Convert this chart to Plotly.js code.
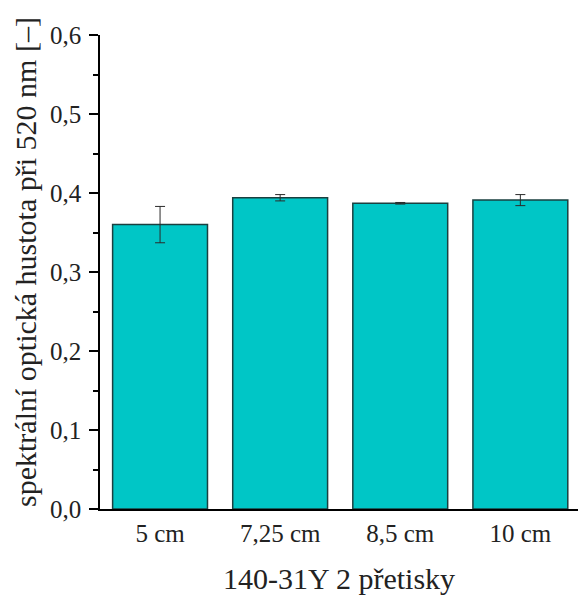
<!DOCTYPE html>
<html><head><meta charset="utf-8">
<script src="https://cdn.plot.ly/plotly-3.0.1.min.js"></script>
<style>html,body{margin:0;padding:0;background:#fff}</style>
</head><body>
<div id="chart" style="width:578px;height:599px"></div>
<script>
const categories = ["5 cm", "7,25 cm", "8,5 cm", "10 cm"];
const values = [0.360, 0.394, 0.387, 0.391];
const errors = [0.023, 0.004, 0.001, 0.007];
const yTickVals = [0, 0.1, 0.2, 0.3, 0.4, 0.5, 0.6];
const yTickText = ["0,0", "0,1", "0,2", "0,3", "0,4", "0,5", "0,6"];

const font = "Liberation Serif, Times New Roman, serif";
Plotly.newPlot('chart', [{
  type: 'bar',
  x: categories,
  y: values,
  marker: {color: '#00C6C6', line: {color: '#1A4040', width: 1.5}},
  error_y: {type: 'data', array: errors, visible: true, color: '#2a2a2a', thickness: 1, width: 5},
  width: 0.79
}], {
  width: 578, height: 599,
  margin: {l: 100, r: 0, t: 35, b: 90},
  paper_bgcolor: '#fff', plot_bgcolor: '#fff',
  showlegend: false,
  font: {family: font, color: '#222'},
  xaxis: {
    range: [-0.5, 3.48],
    showline: true, linecolor: '#000', linewidth: 1.5,
    ticks: 'outside', ticklen: 1, tickcolor: 'rgba(0,0,0,0)', ticklabelstandoff: 0,
    showgrid: false, zeroline: false,
    tickfont: {size: 25, family: font, color: '#222'},
    title: {text: '140-31Y 2 přetisky', font: {size: 30, family: font, color: '#222'}, standoff: 22}
  },
  yaxis: {
    range: [0, 0.6],
    tickvals: yTickVals, ticktext: yTickText,
    showline: true, linecolor: '#000', linewidth: 1.5,
    ticks: 'outside', ticklen: 9, tickwidth: 1.5, tickcolor: '#000', ticklabelstandoff: 3,
    minor: {dtick: 0.05, ticks: 'outside', ticklen: 5, tickwidth: 1.5, tickcolor: '#000'},
    showgrid: false, zeroline: false,
    tickfont: {size: 25, family: font, color: '#222'}
  },
  annotations: [{
    text: 'spektrální optická hustota při 520 nm [–]',
    xref: 'paper', yref: 'paper', x: -0.157, y: 0.521,
    xanchor: 'center', yanchor: 'middle', textangle: -90, showarrow: false,
    font: {size: 30, family: font, color: '#222'}
  }]
}, {displayModeBar: false});
</script>
</body></html>
